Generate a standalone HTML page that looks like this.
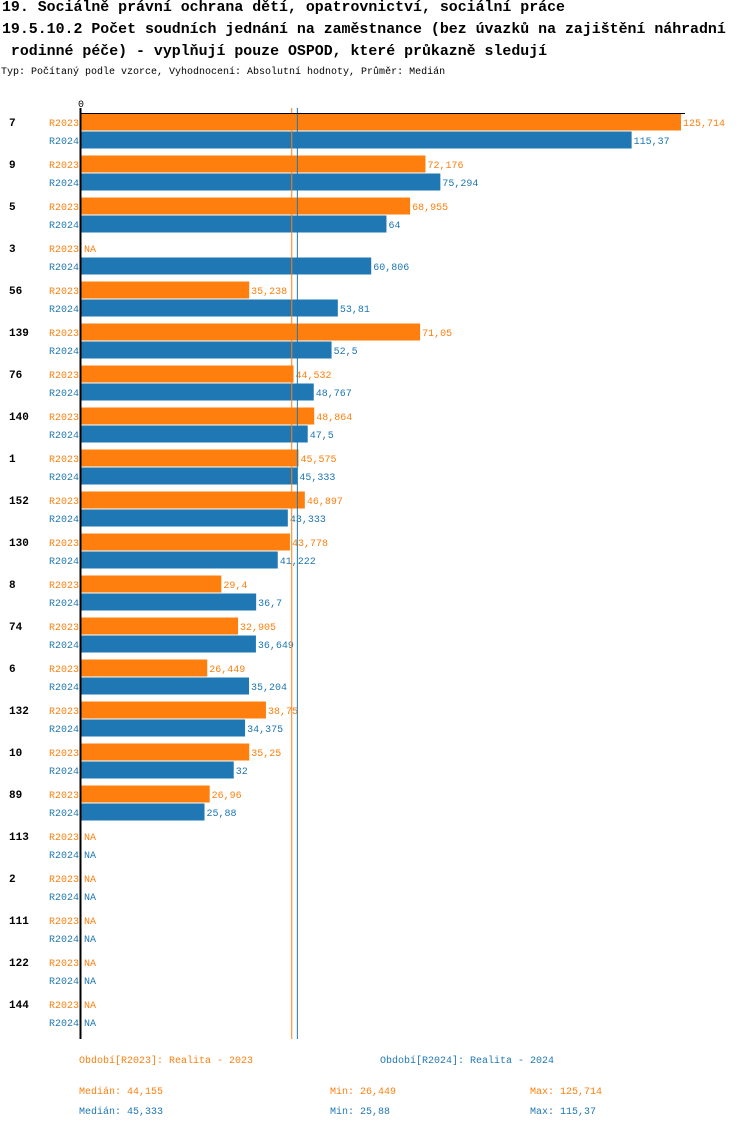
<!DOCTYPE html>
<html><head><meta charset="utf-8"><style>
body{margin:0;background:#fff;width:750px;height:1128px;overflow:hidden;font-family:"Liberation Mono","DejaVu Sans Mono",monospace}
.t{position:absolute;left:2px;font-size:14.9px;font-weight:bold;white-space:pre;color:#000}
</style></head><body>
<div class="t" style="top:0px">19. Sociálně právní ochrana dětí, opatrovnictví, sociální práce</div>
<div class="t" style="top:22px">19.5.10.2 Počet soudních jednání na zaměstnance (bez úvazků na zajištění náhradní</div>
<div class="t" style="top:44px"> rodinné péče) - vyplňují pouze OSPOD, které průkazně sledují</div>
<div style="position:absolute;left:1px;top:67px;font-size:10px;white-space:pre">Typ: Počítaný podle vzorce, Vyhodnocení: Absolutní hodnoty, Průměr: Medián</div>
<svg id="c" width="750" height="1128" style="position:absolute;left:0;top:0" font-family="Liberation Mono, DejaVu Sans Mono, monospace" font-size="10"></svg>
<script>
const categories=["7","9","5","3","56","139","76","140","1","152","130","8","74","6","132","10","89","113","2","111","122","144"];
const r2023=[125.714,72.176,68.955,null,35.238,71.05,44.532,48.864,45.575,46.897,43.778,29.4,32.905,26.449,38.75,35.25,26.96,null,null,null,null,null];
const r2024=[115.37,75.294,64,60.806,53.81,52.5,48.767,47.5,45.333,43.333,41.222,36.7,36.649,35.204,34.375,32,25.88,null,null,null,null,null];
const seriesNames=["R2023","R2024"];
const medians=[44.155,45.333];
const footerStats=[["Medián: 44,155","Min: 26,449","Max: 125,714"],["Medián: 45,333","Min: 25,88","Max: 115,37"]];
const colors=["#ff7f0e","#1f77b4"];
const svg=document.getElementById('c');
const NS="http://www.w3.org/2000/svg";
const x0=81,scale=600/125.714;
const x=v=>x0+v*scale;
const y=(i,s)=>122+i*42+s*18;
function el(tag,attrs,txt){const e=document.createElementNS(NS,tag);for(const k in attrs)e.setAttribute(k,attrs[k]);if(txt!=null)e.textContent=txt;svg.appendChild(e);return e;}
const fmt=v=>String(v).replace('.',',');
let e;
e=el('text',{x:78,y:107,'font-size':10},"0");


const series=[r2023,r2024];
categories.forEach((c,i)=>{
  e=el('text',{x:9,y:y(i,0)+4,'font-weight':'bold','font-size':11},c);
  
  
  series.forEach((arr,s)=>{
    const cy=y(i,s),v=arr[i];
    e=el('text',{x:79,y:cy+4,'text-anchor':'end',fill:colors[s]},seriesNames[s]);
    
    
    if(v==null){
      e=el('text',{x:84,y:cy+4,fill:colors[s]},"NA");
      
      
    }else{
      e=el('rect',{x:x0,y:cy-8.5,width:x(v)-x0,height:17,fill:colors[s]});
      
      
      e=el('text',{x:x(v)+2,y:cy+4,fill:colors[s]},fmt(v));
      
      
    }
  });
});
medians.forEach((m,s)=>{
  e=el('line',{x1:x(m),x2:x(m),y1:108,y2:1039,stroke:colors[s],'stroke-width':1});
  
  
});
e=el('line',{x1:x0,x2:685,y1:113.5,y2:113.5,stroke:'#000','stroke-width':1});


e=el('line',{x1:x0-0.5,x2:x0-0.5,y1:108,y2:1039,stroke:'#000','stroke-width':2});


e=el('text',{x:79,y:1063,fill:colors[0]},"Období[R2023]: Realita - 2023");


e=el('text',{x:380,y:1063,fill:colors[1]},"Období[R2024]: Realita - 2024");


const fx=[79,330,530];
footerStats.forEach((row,s)=>row.forEach((t,j)=>{
  e=el('text',{x:fx[j],y:1094+s*20,fill:colors[s]},t);
  
  
}));
</script>
</body></html>
